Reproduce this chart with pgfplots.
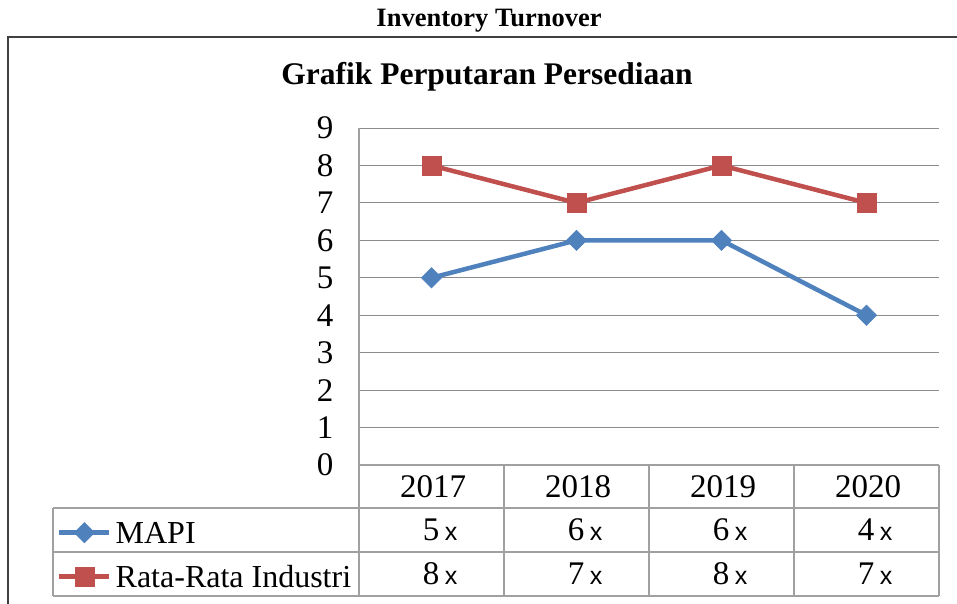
\documentclass[border=0pt]{standalone}
\usepackage{pgfplots}
\pgfplotsset{compat=1.18}
\usepackage{fontspec}
\setmainfont{Liberation Serif}
\newfontfamily\xfont{Liberation Sans}
\definecolor{mblue}{HTML}{4F81BD}
\definecolor{mred}{HTML}{C0504D}
\definecolor{gridc}{HTML}{8C8C8C}
\definecolor{tabc}{HTML}{A0A0A0}
\newcommand{\bigf}{\fontsize{33}{36}\selectfont}
\begin{document}
\begin{tikzpicture}[x=1pt,y=1pt]
\path[use as bounding box] (0,0) rectangle (957,-604);
\draw[line width=1.5pt, black!75] (8,-604) -- (8,-37) -- (957,-37);
\node[font=\bfseries\fontsize{26.5}{28}\selectfont] at (489,-21) {Inventory Turnover};
\node[font=\bfseries\fontsize{31.5}{34}\selectfont] at (487,-77) {Grafik Perputaran Persediaan};
\begin{axis}[at={(359pt,-465pt)}, anchor=south west, scale only axis,
  width=580pt, height=337pt, xmin=-0.5, xmax=3.5, ymin=0, ymax=9,
  ytick={0,...,9}, xtick=\empty, ymajorgrids,
  grid style={gridc, line width=1pt}, axis line style={draw=none},
  major tick length=0pt,
  yticklabel style={font=\bigf, xshift=-22pt},
  /pgf/number format/assume math mode=true, clip=false,
  legend image code/.code={\draw[mark repeat=2,mark phase=2,#1] plot coordinates {(0pt,0pt)(25pt,0pt)(50pt,0pt)};},
  legend style={at={(-0.5207,-0.1677)}, anchor=north west, draw=none, fill=none,
    inner sep=0pt, row sep=22pt, legend cell align=left,
    nodes={font=\fontsize{32}{34}\selectfont, text height=22pt, text depth=0pt, inner ysep=0pt, inner xsep=4pt}},
  ]
\addplot[mblue, line width=4.5pt, mark=square*, mark size=7.2pt, mark options={rotate=45, line width=0.5pt}] coordinates {(0,5)(1,6)(2,6)(3,4)};
\addlegendentry{MAPI}
\addplot[mred, line width=4.5pt, mark=square*, mark size=9.5pt, mark options={line width=0.5pt}] coordinates {(0,8)(1,7)(2,8)(3,7)};
\addlegendentry{Rata-Rata Industri}
\end{axis}
% table
\begin{scope}[tabc, line width=1.2pt]
\draw (359,-128) -- (359,-596);
\draw (359,-465) -- (939,-465);
\foreach \y in {508,552,596} \draw (53,-\y) -- (939,-\y);
\draw (53,-508) -- (53,-596);
\foreach \x in {504,649,794,939} \draw (\x,-465) -- (\x,-596);
\end{scope}
\foreach \yr [count=\i from 0] in {2017,2018,2019,2020}
  \node[font=\bigf] at (433+145*\i,-487) {\yr};
\foreach \v [count=\i from 0] in {5,6,6,4}
  \node[font=\bigf] at (440+145*\i,-530) {\v\,{\xfont\fontsize{25}{26}\selectfont x}};
\foreach \v [count=\i from 0] in {8,7,8,7}
  \node[font=\bigf] at (440+145*\i,-574) {\v\,{\xfont\fontsize{25}{26}\selectfont x}};
\end{tikzpicture}
\end{document}
